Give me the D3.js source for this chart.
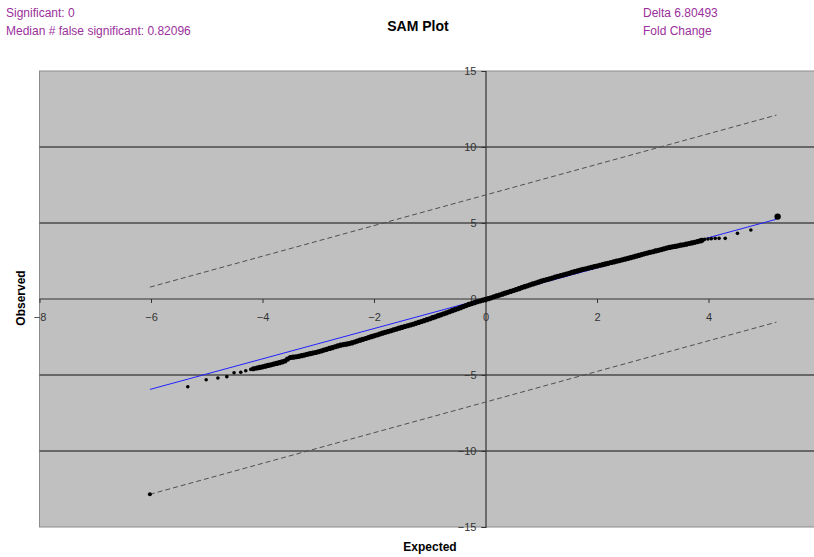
<!DOCTYPE html>
<html>
<head>
<meta charset="utf-8">
<script src="https://cdn.jsdelivr.net/npm/d3@7"></script>
<style>
  body { margin: 0; background: #fff; }
  svg { display: block; font-family: "Liberation Sans", Arial, sans-serif; }
</style>
</head>
<body>
<div id="fig"></div>
<script>
// expected vs observed scores (sparse tails, dense middle)
var expected = [-5.34, -5.01, -4.80, -4.64, -4.51, -4.39, -4.30, -4.21,
  -4.16, -4.10, -4.05, -4.00, -3.95, -3.90, -3.85, -3.80, -3.75, -3.70, -3.65, -3.60,
  -3.55, -3.50, -3.45, -3.40, -3.35, -3.30, -3.25, -3.20, -3.15, -3.10, -3.05, -3.00,
  -2.95, -2.90, -2.85, -2.80, -2.75, -2.70, -2.65, -2.60, -2.55, -2.50, -2.45, -2.40,
  -2.35, -2.30, -2.25, -2.20, -2.15, -2.10, -2.05, -2.00, -1.95, -1.90, -1.85, -1.80,
  -1.75, -1.70, -1.65, -1.60, -1.55, -1.50, -1.45, -1.40, -1.35, -1.30, -1.25, -1.20,
  -1.15, -1.10, -1.05, -1.00, -0.95, -0.90, -0.85, -0.80, -0.75, -0.70, -0.65, -0.60,
  -0.55, -0.50, -0.45, -0.40, -0.35, -0.30, -0.25, -0.20, -0.15, -0.10, -0.05, 0.00,
  0.05, 0.10, 0.15, 0.20, 0.25, 0.30, 0.35, 0.40, 0.45, 0.50, 0.55, 0.60,
  0.65, 0.70, 0.75, 0.80, 0.85, 0.90, 0.95, 1.00, 1.05, 1.10, 1.15, 1.20,
  1.25, 1.30, 1.35, 1.40, 1.45, 1.50, 1.55, 1.60, 1.65, 1.70, 1.75, 1.80,
  1.85, 1.90, 1.95, 2.00, 2.05, 2.10, 2.15, 2.20, 2.25, 2.30, 2.35, 2.40,
  2.45, 2.50, 2.55, 2.60, 2.65, 2.70, 2.75, 2.80, 2.85, 2.90, 2.95, 3.00,
  3.05, 3.10, 3.15, 3.20, 3.25, 3.30, 3.35, 3.40, 3.45, 3.50, 3.55, 3.60,
  3.65, 3.70, 3.75, 3.80, 3.85, 3.88,
  3.93, 3.99, 4.05, 4.12, 4.19, 4.30, 4.52, 4.76, 5.24];
var observed = [-5.77, -5.31, -5.20, -5.11, -4.85, -4.82, -4.72, -4.63,
  -4.59, -4.54, -4.50, -4.46, -4.42, -4.37, -4.33, -4.28, -4.24, -4.19, -4.14, -4.08,
  -3.95, -3.85, -3.83, -3.80, -3.77, -3.73, -3.69, -3.64, -3.60, -3.56, -3.52, -3.47,
  -3.42, -3.36, -3.31, -3.25, -3.20, -3.14, -3.09, -3.04, -3.00, -2.97, -2.93, -2.89,
  -2.83, -2.77, -2.71, -2.65, -2.60, -2.54, -2.48, -2.42, -2.37, -2.31, -2.25, -2.19,
  -2.14, -2.09, -2.03, -1.98, -1.92, -1.87, -1.81, -1.76, -1.71, -1.66, -1.60, -1.54,
  -1.48, -1.42, -1.36, -1.30, -1.23, -1.17, -1.10, -1.04, -0.97, -0.91, -0.84, -0.77,
  -0.70, -0.64, -0.57, -0.50, -0.43, -0.36, -0.30, -0.24, -0.18, -0.13, -0.08, -0.03,
  0.02, 0.08, 0.14, 0.20, 0.26, 0.32, 0.38, 0.44, 0.50, 0.56, 0.62, 0.68,
  0.75, 0.81, 0.87, 0.93, 0.99, 1.05, 1.11, 1.17, 1.23, 1.28, 1.33, 1.38,
  1.44, 1.49, 1.54, 1.59, 1.64, 1.69, 1.75, 1.80, 1.85, 1.90, 1.95, 1.99,
  2.04, 2.08, 2.13, 2.17, 2.22, 2.26, 2.31, 2.35, 2.40, 2.44, 2.49, 2.53,
  2.58, 2.62, 2.67, 2.72, 2.77, 2.82, 2.87, 2.92, 2.97, 3.02, 3.07, 3.11,
  3.16, 3.20, 3.25, 3.30, 3.35, 3.39, 3.43, 3.46, 3.50, 3.54, 3.57, 3.61,
  3.65, 3.69, 3.73, 3.78, 3.82, 3.86,
  3.92, 3.95, 3.97, 3.99, 3.99, 3.99, 4.32, 4.54, 5.42];

// reference line and the +/- delta band
var lineX = [-6.02, 5.22];
var lineY = [-5.95, 5.25];
var upperY = [0.78, 12.1];
var lowerY = [-12.85, -1.52];

var xTicks = [-8, -6, -4, -2, 0, 2, 4];
var yTicks = [-15, -10, -5, 0, 5, 10, 15];
var gridY = [-10, -5, 5, 10];

var infoLeft = ["Significant: 0", "Median # false significant: 0.82096"];
var infoRight = ["Delta 6.80493", "Fold Change"];

var width = 814, height = 557;
var purple = "#9b2f9b";

var svg = d3.select("#fig").append("svg")
  .attr("width", width)
  .attr("height", height);

var x = d3.scaleLinear().domain([-8, 6]).range([39.5, 820]);
var y = d3.scaleLinear().domain([-15, 15]).range([527, 71]);

// plot area
svg.append("rect")
  .attr("x", x(-8)).attr("y", y(15))
  .attr("width", x(6) - x(-8)).attr("height", y(-15) - y(15))
  .attr("fill", "#c0c0c0")
  .attr("stroke", "#8c8c8c");

svg.selectAll("line.grid").data(gridY).enter().append("line")
  .attr("class", "grid")
  .attr("x1", x(-8)).attr("x2", x(6))
  .attr("y1", function(d) { return y(d); })
  .attr("y2", function(d) { return y(d); })
  .attr("stroke", "#4a4a4a")
  .attr("stroke-width", 1.5);

// axes cross at the origin
var xAxis = svg.append("g")
  .attr("transform", "translate(0," + y(0) + ")")
  .call(d3.axisBottom(x).tickValues(xTicks).tickSize(4).tickPadding(10));
var yAxis = svg.append("g")
  .attr("transform", "translate(" + x(0) + ",0)")
  .call(d3.axisLeft(y).tickValues(yTicks).tickSize(4).tickPadding(5));

[xAxis, yAxis].forEach(function(a) {
  a.select(".domain").attr("stroke", "#333").attr("stroke-width", 1.2);
  a.selectAll(".tick line").attr("stroke", "#333");
  a.selectAll(".tick text")
    .attr("fill", "#333")
    .style("font-size", "11px")
    .style("font-family", "'Liberation Sans', Arial, sans-serif");
});
xAxis.select(".domain").attr("d", "M" + x(-8) + ",0H" + x(6));

var line = d3.line()
  .x(function(d) { return x(d[0]); })
  .y(function(d) { return y(d[1]); });

[upperY, lowerY].forEach(function(band) {
  svg.append("path")
    .datum(d3.zip(lineX, band))
    .attr("d", line)
    .attr("fill", "none")
    .attr("stroke", "#505050")
    .attr("stroke-width", 1)
    .attr("stroke-dasharray", "5,3");
});
svg.append("circle")
  .attr("cx", x(lineX[0])).attr("cy", y(lowerY[0]))
  .attr("r", 2).attr("fill", "#000");

svg.append("path")
  .datum(d3.zip(lineX, lineY))
  .attr("d", line)
  .attr("fill", "none")
  .attr("stroke", "#2020ff")
  .attr("stroke-width", 1);

var pts = d3.zip(expected, observed);
svg.selectAll("circle.pt").data(pts).enter().append("circle")
  .attr("class", "pt")
  .attr("cx", function(d) { return x(d[0]); })
  .attr("cy", function(d) { return y(d[1]); })
  .attr("r", function(d, i) {
    if (i == pts.length - 1) return 3.2;
    return (d[0] > -4.17 && d[0] < 3.9) ? 2.6 : 1.8;
  })
  .attr("fill", "#000");

// titles
svg.append("text")
  .attr("x", 418).attr("y", 31)
  .attr("text-anchor", "middle")
  .style("font-size", "14px").style("font-weight", "bold")
  .text("SAM Plot");
svg.append("text")
  .attr("x", 430).attr("y", 551)
  .attr("text-anchor", "middle")
  .style("font-size", "12px").style("font-weight", "bold")
  .text("Expected");
svg.append("text")
  .attr("transform", "translate(25,298) rotate(-90)")
  .attr("text-anchor", "middle")
  .style("font-size", "12px").style("font-weight", "bold")
  .text("Observed");

svg.selectAll("text.infoL").data(infoLeft).enter().append("text")
  .attr("class", "infoL")
  .attr("x", 6)
  .attr("y", function(d, i) { return 17 + i * 18; })
  .attr("fill", purple)
  .style("font-size", "12px")
  .text(function(d) { return d; });
svg.selectAll("text.infoR").data(infoRight).enter().append("text")
  .attr("class", "infoR")
  .attr("x", 643)
  .attr("y", function(d, i) { return 17 + i * 18; })
  .attr("fill", purple)
  .style("font-size", "12px")
  .text(function(d) { return d; });
</script>
</body>
</html>
